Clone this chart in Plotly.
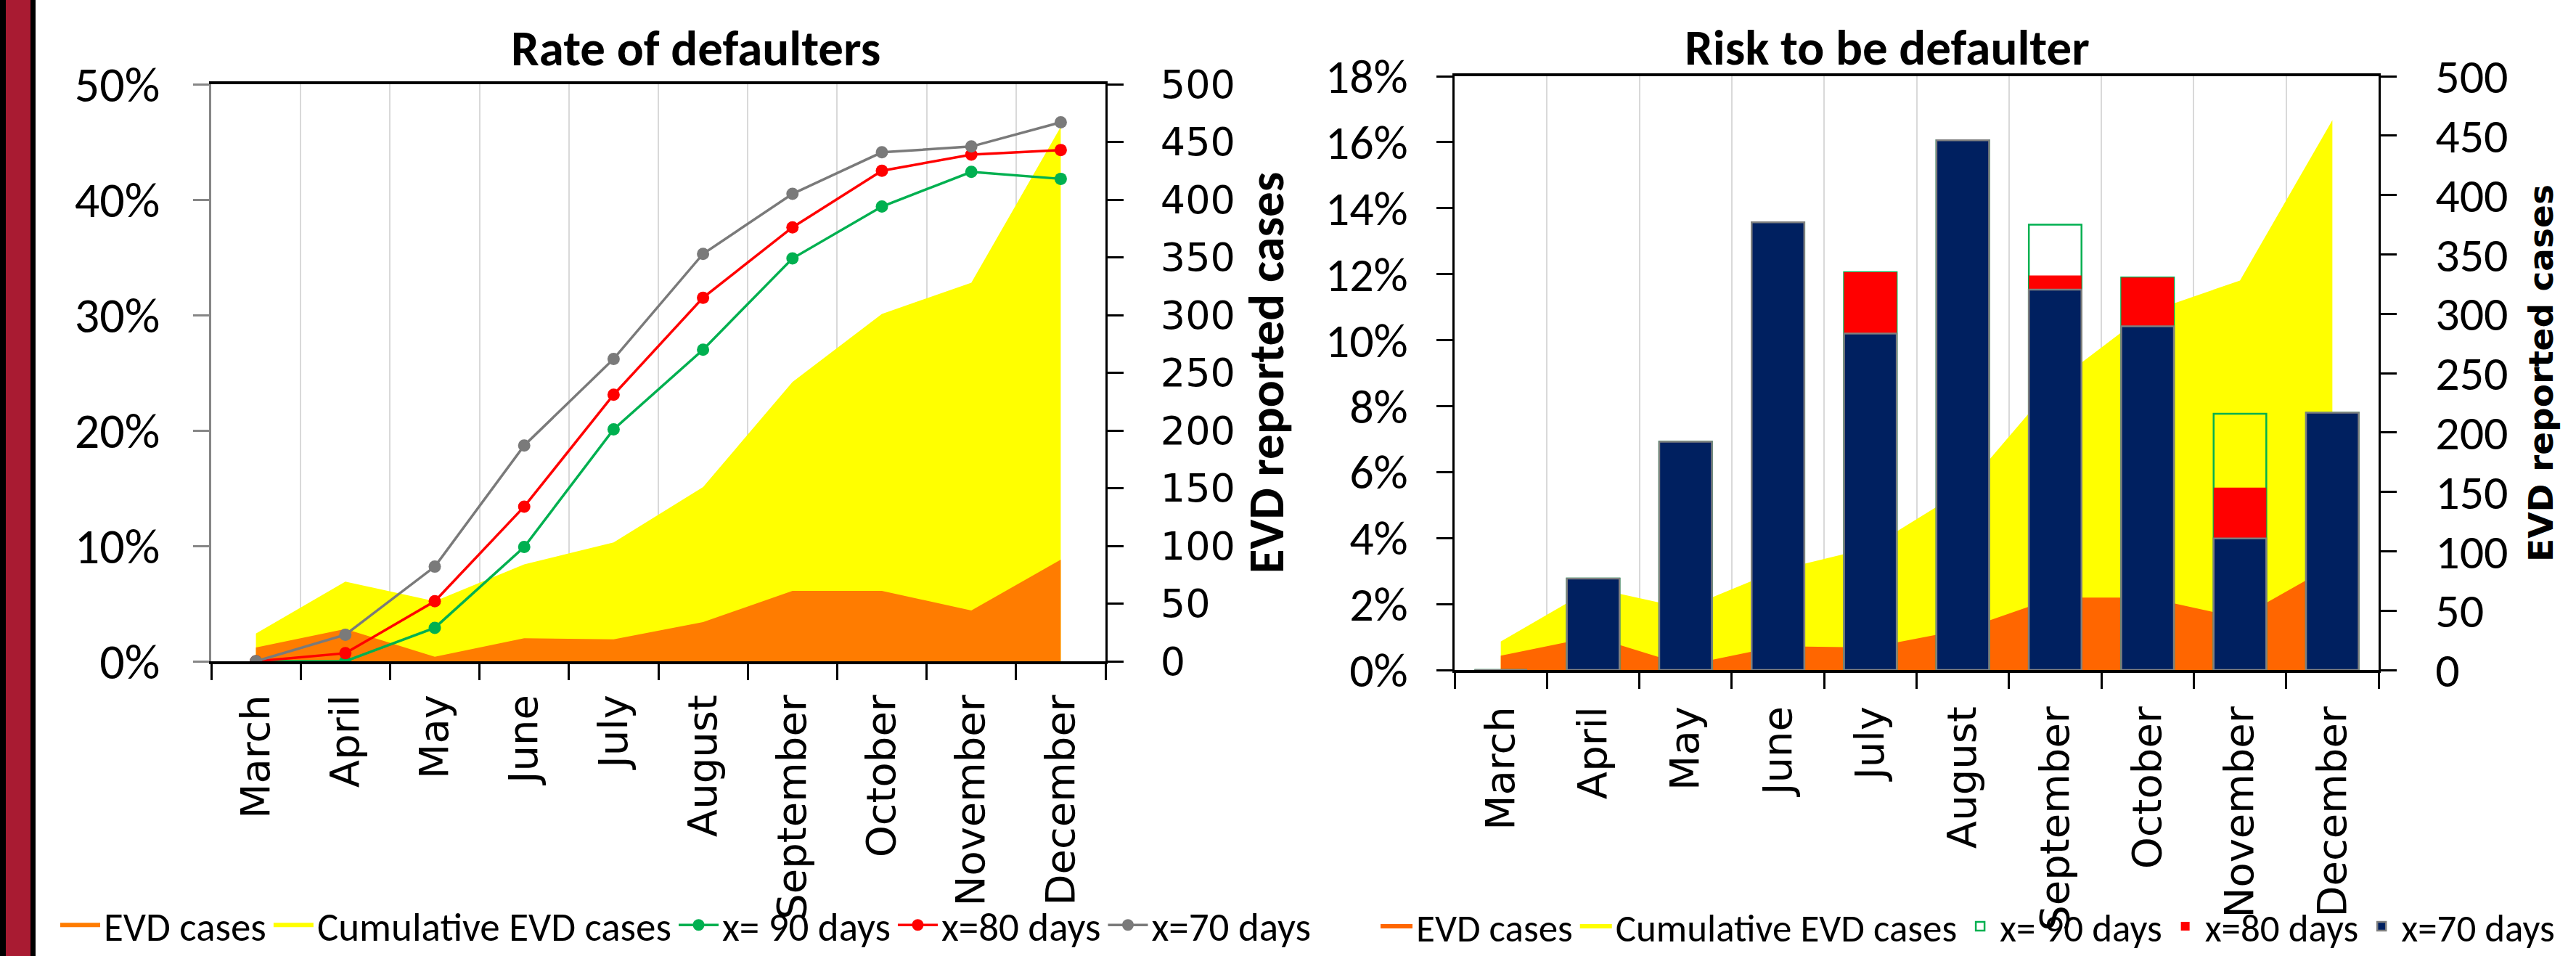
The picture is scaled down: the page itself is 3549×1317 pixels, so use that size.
import plotly.graph_objects as go

# ---------------- data ----------------
months = ["March", "April", "May", "June", "July", "August",
          "September", "October", "November", "December"]

evd_cases = [12, 28, 4, 20, 19, 34, 61, 61, 44, 88]
cumulative_evd_cases = [24, 69, 52, 84, 103, 151, 242, 301, 328, 463]

# Rate of defaulters (%)
rate_x90 = [0.0, 0.0, 2.9, 9.9, 20.1, 27.0, 34.9, 39.4, 42.4, 41.8]
rate_x80 = [0.0, 0.7, 5.2, 13.4, 23.1, 31.5, 37.6, 42.5, 43.9, 44.3]
rate_x70 = [0.0, 2.3, 8.2, 18.7, 26.2, 35.3, 40.5, 44.1, 44.6, 46.7]

# Risk to be defaulter (%)
risk_x90 = [0.0, 2.77, 6.92, 13.57, 12.06, 16.06, 13.50, 11.90, 7.77, 7.80]
risk_x80 = [0.0, 2.77, 6.92, 13.57, 12.06, 16.06, 11.96, 11.90, 5.53, 7.80]
risk_x70 = [0.0, 2.77, 6.92, 13.57, 10.20, 16.06, 11.53, 10.42, 3.99, 7.80]

cases_range = [0, 500]
rate_range = [0, 50]
risk_range = [0, 18]

# ---------------- helpers ----------------
W, H = 3549, 1317


def px(x):
    return x / W


def py(y):
    return 1 - y / H


CAL = "Carlito, Lato, sans-serif"
VER = "DejaVu Sans, Verdana, sans-serif"

fig = go.Figure()

# ---------------- left chart ----------------
fig.add_trace(go.Scatter(x=months, y=cumulative_evd_cases, mode="none", fill="tozeroy",
                         fillcolor="#FFFF00", name="Cumulative EVD cases",
                         xaxis="x", yaxis="y", legend="legend", legendrank=2))
fig.add_trace(go.Scatter(x=months, y=evd_cases, mode="none", fill="tozeroy",
                         fillcolor="#FF7C00", name="EVD cases",
                         xaxis="x", yaxis="y", legend="legend", legendrank=1))
for vals, name, col, rk in [(rate_x90, "x= 90 days", "#00B050", 3),
                            (rate_x80, "x=80 days", "#FF0000", 4),
                            (rate_x70, "x=70 days", "#7A7A7A", 5)]:
    fig.add_trace(go.Scatter(x=months, y=vals, mode="lines+markers", name=name,
                             line=dict(color=col, width=3.5),
                             marker=dict(color=col, size=17),
                             xaxis="x", yaxis="y2", legend="legend", legendrank=rk))

# ---------------- right chart ----------------
fig.add_trace(go.Scatter(x=months, y=cumulative_evd_cases, mode="none", fill="tozeroy",
                         fillcolor="#FFFF00", name="Cumulative EVD cases",
                         xaxis="x2", yaxis="y3", legend="legend2", legendrank=2))
fig.add_trace(go.Scatter(x=months, y=evd_cases, mode="none", fill="tozeroy",
                         fillcolor="#FF6600", name="EVD cases",
                         xaxis="x2", yaxis="y3", legend="legend2", legendrank=1))
fig.add_trace(go.Bar(x=months, y=risk_x90, name="x= 90 days",
                     marker=dict(color="rgba(0,0,0,0)", line=dict(color="#00B050", width=2.5)),
                     xaxis="x2", yaxis="y4", legend="legend2", legendrank=3))
fig.add_trace(go.Bar(x=months, y=risk_x80, name="x=80 days",
                     marker=dict(color="#FF0000", line=dict(width=0)),
                     xaxis="x2", yaxis="y4", legend="legend2", legendrank=4))
fig.add_trace(go.Bar(x=months, y=risk_x70, name="x=70 days",
                     marker=dict(color="#002060", line=dict(color="#7F7F7F", width=2.5)),
                     xaxis="x2", yaxis="y4", legend="legend2", legendrank=5))

# ---------------- axes ----------------
xcommon = dict(type="category", tickson="boundaries", range=[-0.5, 9.5],
               showgrid=True, gridcolor="#D9D9D9", gridwidth=2,
               ticks="outside", ticklen=22, tickwidth=3, tickcolor="black",
               showline=True, linecolor="black", linewidth=3.5, mirror=True,
               tickangle=-90, tickfont=dict(family=VER, size=56, color="black"),
               zeroline=False)

L = dict(x0=px(291), x1=px(1523), y0=py(911), y1=py(116))
R = dict(x0=px(2004), x1=px(3277), y0=py(923), y1=py(105))

fig.update_layout(
    width=W, height=H,
    margin=dict(l=0, r=0, t=0, b=0, autoexpand=False),
    paper_bgcolor="white", plot_bgcolor="rgba(0,0,0,0)",
    barmode="overlay", bargap=0.43,
    xaxis=dict(domain=[L["x0"], L["x1"]], anchor="y", ticklabelstandoff=20, **xcommon),
    yaxis=dict(domain=[L["y0"], L["y1"]], anchor="x", side="right",
               range=cases_range, tick0=0, dtick=50,
               ticks="outside", ticklen=22, tickwidth=3, tickcolor="black",
               showline=True, linecolor="black", linewidth=3,
               showgrid=False, zeroline=False, ticklabelstandoff=40,
               tickfont=dict(family=VER, size=54, color="black"),
               title=dict(text="EVD reported cases", standoff=14,
                          font=dict(family=CAL, size=69, color="black", weight="bold"))),
    yaxis2=dict(overlaying="y", anchor="x", side="left",
                range=rate_range, tick0=0, dtick=10, ticksuffix="%",
                ticks="outside", ticklen=22, tickwidth=3, tickcolor="#868686",
                showline=True, linecolor="#868686", linewidth=3,
                showgrid=False, zeroline=False, ticklabelstandoff=32,
                tickfont=dict(family=CAL, size=68, color="black")),
    xaxis2=dict(domain=[R["x0"], R["x1"]], anchor="y3", ticklabelstandoff=24, **xcommon),
    yaxis3=dict(domain=[R["y0"], R["y1"]], anchor="x2", side="right",
                range=cases_range, tick0=0, dtick=50,
                ticks="outside", ticklen=22, tickwidth=3, tickcolor="black",
                showline=True, linecolor="black", linewidth=3,
                showgrid=False, zeroline=False, ticklabelstandoff=40,
                tickfont=dict(family=CAL, size=66, color="black"),
                title=dict(text="EVD reported cases", standoff=30,
                           font=dict(family=VER, size=47, color="black", weight="bold"))),
    yaxis4=dict(overlaying="y3", anchor="x2", side="left",
                range=risk_range, tick0=0, dtick=2, ticksuffix="%",
                ticks="outside", ticklen=22, tickwidth=3, tickcolor="black",
                showline=True, linecolor="black", linewidth=3,
                showgrid=False, zeroline=False, ticklabelstandoff=26,
                tickfont=dict(family=CAL, size=66, color="black")),
    legend=dict(orientation="h", x=px(78), xanchor="left", y=0, yanchor="bottom",
                font=dict(family=CAL, size=55, color="black"), bgcolor="rgba(0,0,0,0)",
                itemwidth=55, tracegroupgap=0),
    legend2=dict(orientation="h", x=px(1897), xanchor="left", y=0, yanchor="bottom",
                 font=dict(family=CAL, size=53, color="black"), bgcolor="rgba(0,0,0,0)",
                 itemwidth=44, tracegroupgap=0),
    annotations=[
        dict(text="Rate of defaulters", x=px(958), y=py(67), xref="paper", yref="paper",
             xanchor="center", yanchor="middle", showarrow=False,
             font=dict(family=CAL, size=69, color="black", weight="bold")),
        dict(text="Risk to be defaulter", x=px(2600), y=py(66), xref="paper", yref="paper",
             xanchor="center", yanchor="middle", showarrow=False,
             font=dict(family=CAL, size=69, color="black", weight="bold")),
    ],
    shapes=[
        dict(type="rect", xref="paper", yref="paper", x0=0, x1=px(49), y0=0, y1=1,
             fillcolor="black", line=dict(width=0), layer="above"),
        dict(type="rect", xref="paper", yref="paper", x0=px(8), x1=px(42), y0=0, y1=1,
             fillcolor="#A91B32", line=dict(width=0), layer="above"),
    ],
)

fig.write_html("out.html", config={"displayModeBar": False},
               post_script="document.body.style.margin='0';document.body.style.overflow='hidden';")
